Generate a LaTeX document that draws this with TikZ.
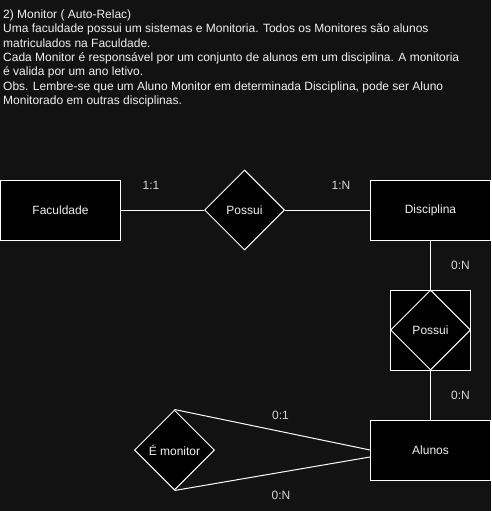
\documentclass[tikz,border=0pt]{standalone}
\usepackage{fontspec}
\setmainfont{Liberation Sans}
\usetikzlibrary{positioning,shapes.geometric}
\definecolor{fundo}{RGB}{18,18,18}
\definecolor{texto}{RGB}{240,240,240}
\definecolor{rotulo}{RGB}{215,215,215}
\newcommand{\fonteER}{\fontsize{12}{14.3}\selectfont}

\begin{document}
\begin{tikzpicture}[x=1pt,y=-1pt,
    node distance=49pt,
    entidade/.style={rectangle,draw=white,fill=black,text=texto,line width=1pt,minimum width=120pt,minimum height=60pt,font=\fonteER},
    relacao/.style={diamond,aspect=1,draw=white,fill=black,text=texto,line width=1pt,minimum size=80pt,inner sep=0pt,font=\fonteER},
    card/.style={text=rotulo,font=\fonteER,inner sep=0pt},
    liga/.style={draw=white,line width=1pt}
  ]
  \fill[fundo] (0,0) rectangle (491,511);
  \useasboundingbox (0,0) rectangle (491,511);
  \node[anchor=north west,inner sep=0pt,align=left,text=texto,font=\fonteER] (enunciado) at (3,9.8)
    {2) Monitor ( Auto-Relac)\\
     Uma faculdade possui um sistemas e Monitoria. Todos os Monitores são alunos\\
     matriculados na Faculdade.\\
     Cada Monitor é responsável por um conjunto de alunos em um disciplina. A monitoria\\
     é valida por um ano letivo.\\
     Obs. Lembre-se que um Aluno Monitor em determinada Disciplina, pode ser Aluno\\
     Monitorado em outras disciplinas.};
  \node[entidade] (faculdade) at (60.5,210) {Faculdade};
  \node[relacao,right=83pt of faculdade] (possui1) {Possui};
  \node[entidade,right=85pt of possui1] (disciplina) {Disciplina};
  \node[entidade,minimum width=80pt,minimum height=80pt,below=of disciplina] (agregacao) {};
  \node[relacao] (possui2) at (agregacao) {Possui};
  \node[entidade,below=of agregacao] (alunos) {Alunos};
  \node[relacao,left=155pt of alunos] (monitor) {É monitor};
  \draw[liga] (faculdade) -- (possui1);
  \draw[liga] (possui1) -- (disciplina);
  \draw[liga] (disciplina) -- (agregacao);
  \draw[liga] (possui2.south) -- (alunos.north);
  \draw[liga] (monitor.north) -- (alunos.west);
  \draw[liga] (monitor.south) -- ([yshift=-7pt]alunos.west);
  \node[card] (c11) at (151,185) {1:1};
  \node[card] (c1n) at (341,185) {1:N};
  \node[card] (c0n1) at (460.5,265) {0:N};
  \node[card] (c0n2) at (460.5,395) {0:N};
  \node[card] (c01) at (280.5,415) {0:1};
  \node[card] (c0n3) at (281,495) {0:N};
\end{tikzpicture}
\end{document}
